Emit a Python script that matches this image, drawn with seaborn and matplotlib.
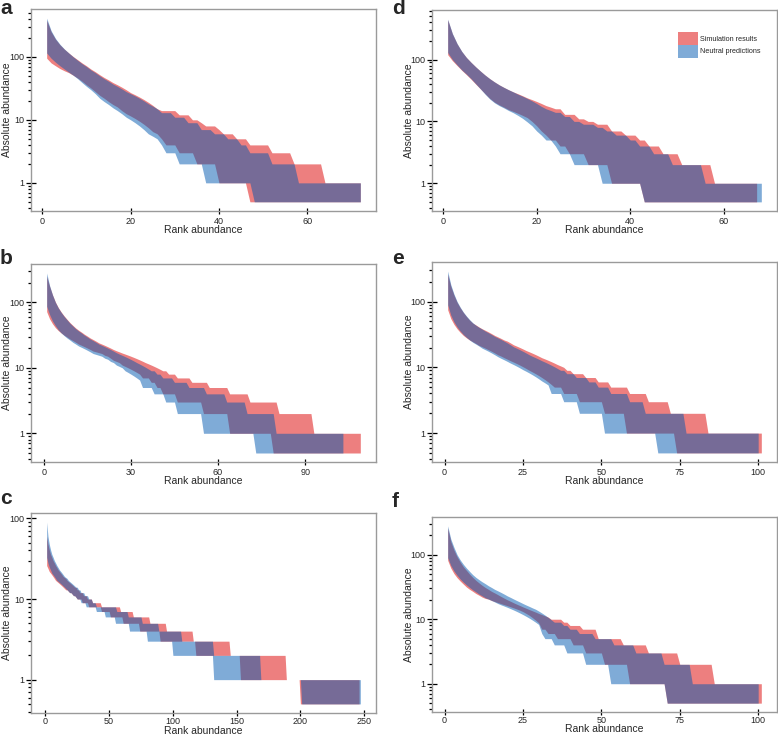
import numpy as np
import matplotlib
matplotlib.use("Agg")
import matplotlib.pyplot as plt
import seaborn as sns
from matplotlib.patches import Patch
from matplotlib.ticker import FixedLocator, LogLocator, NullFormatter

sns.set_style("white")
plt.rcParams['font.family'] = ['Liberation Sans', 'DejaVu Sans']

# ---------------- data ----------------
# panel a
sim_hi_a = [380, 250, 190, 155, 132, 115, 101, 90, 80, 72, 64, 58, 52, 47, 43, 39, 36, 33, 30, 27, 25, 23, 21, 19, 17, 15] \
    + [14]*4 + [12]*3 + [10]*2 + [9] + [8]*3 + [7] + [6]*3 + [5]*3 + [4]*5 + [3]*5 + [2]*7 + [1]*9
sim_lo_a = [95, 80, 72, 65, 60, 56, 51, 46, 41, 36, 32, 28, 24.5, 22, 19.5, 17.5, 16, 14, 12.5, 11.5, 10.5, 9.5, 8.5, 7.5, 6.5, 6, 5] \
    + [4]*3 + [3]*4 + [2]*5 + [1]*7 + [0.5]*26
neu_hi_a = [410, 260, 195, 158, 133, 115, 100, 88, 78, 70, 62, 56, 50, 45, 41, 37, 34, 31, 28, 26, 24, 22, 20, 18, 16.5, 15] \
    + [13]*3 + [11]*3 + [9]*3 + [7]*3 + [6]*3 + [5]*3 + [4]*2 + [3]*5 + [2]*6 + [1]*15
neu_lo_a = [115, 95, 82, 72, 64, 57, 51, 45, 39, 34, 30, 26, 22, 19.5, 17.5, 15.5, 14, 12.5, 11, 10, 9, 8, 7, 6, 5.5, 5, 4] \
    + [3]*3 + [2]*6 + [1]*11 + [0.5]*25

# panel b
sim_hi_b = [250, 175, 130, 101, 83, 71, 62, 55, 49, 44.5, 40.5, 37.5, 35, 32.5, 30.5, 28.5, 27, 25.5, 24, 23, 22, 21, 20, 19,
            18.2, 17.5, 16.8, 16.2, 15.6, 15, 14.4, 13.8, 13.2, 12.6, 12, 11.5, 11, 10.5, 10, 9.5] \
    + [9]*2 + [8]*3 + [7]*5 + [6]*6 + [5]*7 + [4]*7 + [3]*10 + [2]*12 + [1]*17
sim_lo_b = [72, 56, 47, 41, 37, 34, 31.5, 29.5, 27.5, 26, 24.5, 23, 22, 21, 20, 19, 18, 17.5, 17, 16.5, 15.5, 15, 14, 13,
            12.5, 12, 11, 10.5, 10, 9.5, 9, 8.5, 8] \
    + [7]*3 + [6]*2 + [5]*2 + [4]*5 + [3]*9 + [2]*9 + [1]*15 + [0.5]*31
neu_hi_b = [280, 180, 130, 100, 82, 70, 61, 54, 48, 43.5, 39.5, 36.5, 34, 31.5, 29.5, 27.5, 26, 24.5, 23, 22, 21, 20, 19, 18,
            17, 16.2, 15.5, 14.8, 14.1, 13.4, 12.7, 12, 11.4, 10.8, 10.2, 9.6] \
    + [9]*2 + [8]*2 + [7]*4 + [6]*5 + [5]*6 + [4]*7 + [3]*7 + [2]*10 + [1]*24
neu_lo_b = [87, 65, 52, 44, 38, 34, 31, 28.5, 26.5, 24.5, 23, 21.5, 20.5, 19.5, 18.5, 17.5, 16.5, 16, 15.5, 15, 14, 13.5,
            12.5, 12, 11, 10.5, 10, 9, 8.5, 8, 7.5, 7, 6.5] \
    + [5]*4 + [4]*4 + [3]*4 + [2]*9 + [1]*18 + [0.5]*31

# panel c
sim_hi_c = [60, 48, 41, 36, 33, 30, 28, 26, 24.5, 23, 22, 21, 20, 19, 18.5, 18, 17, 16.5, 16, 15.5, 15, 14.5, 14, 14, 13, 13,
            12, 12, 12, 11, 11, 11, 10, 10, 10, 10] \
    + [9]*7 + [8]*15 + [7]*10 + [6]*13 + [5]*13 + [4]*21 + [3]*29 + [2]*44 + [1]*58
sim_lo_c = [26, 24, 22, 21, 20, 19, 18, 17, 16.5, 16, 15.5, 15, 14.5, 14, 13.5, 13, 13, 12.5, 12, 12, 11.5, 11, 11, 10.5,
            10, 10, 10, 10] \
    + [9]*5 + [8]*10 + [7]*7 + [6]*10 + [5]*13 + [4]*16 + [3]*28 + [2]*35 + [1]*47 + [0.5]*47
neu_hi_c = [90, 60, 48, 41, 36, 33, 30, 28, 26, 24.5, 23, 22, 21, 20, 19, 18.5, 18, 17, 16.5, 16, 15.5, 15, 14.5, 14, 14,
            13, 13, 12, 12, 12, 11, 11, 11, 10, 10, 10, 9, 9, 9] \
    + [8]*16 + [7]*9 + [6]*11 + [5]*13 + [4]*18 + [3]*25 + [2]*37 + [1]*79
neu_lo_c = [33, 28, 25, 23, 21, 20, 19, 18, 17, 16.5, 16, 15.5, 15, 14.5, 14, 13.5, 13, 12.5, 12, 12, 11.5, 11, 11, 10.5,
            10, 10, 10, 9, 9, 9, 9] \
    + [8]*8 + [7]*7 + [6]*8 + [5]*11 + [4]*14 + [3]*20 + [2]*32 + [1]*69 + [0.5]*47

# panel d
sim_hi_d = [440, 260, 180, 135, 108, 90, 76, 65, 56, 49, 43.5, 39, 35.5, 32.5, 30, 28, 26, 24, 22.5, 21, 19.5, 18, 17] \
    + [16]*2 + [13]*3 + [11]*2 + [10]*2 + [9]*3 + [7]*3 + [6]*3 + [5]*2 + [4]*3 + [3]*4 + [2]*7 + [1]*10
sim_lo_d = [120, 96, 80, 67, 57, 48, 40, 33.5, 28, 23.5, 20.5, 18.5, 17, 15.5, 14.5, 13.5, 12.5, 11.5, 10, 8.5, 7, 6] \
    + [5]*2 + [4]*2 + [3]*4 + [2]*5 + [1]*7 + [0.5]*25
neu_hi_d = [450, 265, 182, 136, 108, 90, 76, 65, 56, 49, 43.5, 39, 35.5, 32.5, 30, 27.5, 25.5, 23.5, 21.5, 19.5, 17.5, 16, 15] \
    + [14]*2 + [12]*2 + [10]*2 + [9]*3 + [8]*2 + [7]*2 + [6]*3 + [5]*2 + [4]*3 + [3]*4 + [2]*7 + [1]*13
neu_lo_d = [130, 100, 82, 68, 58, 49, 40.5, 33.5, 27.5, 23, 20, 18, 16.5, 15, 13.8, 12.5, 11.2, 9.8, 8.5] \
    + [7] + [6] + [5]*2 + [4] + [3]*3 + [2]*6 + [1]*9 + [0.5]*26

# panel e
sim_hi_e = [260, 170, 125, 97, 80, 68, 59, 52, 47, 44, 41, 38.5, 36.5, 34.5, 32.5, 30.5, 29, 27.5, 26, 25, 23.5, 22, 21, 20,
            19, 18, 17.2, 16.4, 15.6, 14.8, 14, 13.4, 12.8, 12.2, 11.6, 11, 10.5, 10] \
    + [9]*2 + [8]*4 + [7]*4 + [6]*4 + [5]*6 + [4]*6 + [3]*7 + [2]*12 + [1]*18
sim_lo_e = [75, 55, 45, 38.5, 34, 30.5, 28, 26, 24.5, 23, 21.5, 20.5, 19.5, 18.5, 17.5, 16.5, 15.5, 14.8, 14, 13.3, 12.6, 12,
            11.4, 10.8, 10.2, 9.6, 9, 8.5, 8, 7.5, 7, 6.5, 6, 5.5] \
    + [5]*3 + [4]*5 + [3]*8 + [2]*7 + [1]*16 + [0.5]*28
neu_hi_e = [290, 180, 130, 100, 82, 69, 60, 53, 47.5, 43.5, 40.5, 38, 35.5, 33.5, 31.5, 29.5, 28, 26.5, 25, 23.5, 22, 20.5,
            19.5, 18.5, 17.5, 16.5, 15.5, 14.7, 14, 13.3, 12.6, 12, 11.4, 10.8, 10.2, 9.6] \
    + [9]*2 + [8]*3 + [7]*4 + [6]*3 + [5]*4 + [4]*6 + [3]*5 + [2]*13 + [1]*24
neu_lo_e = [89, 62, 49, 41, 35.5, 31.5, 28.5, 26, 24, 22.5, 21, 19.5, 18.5, 17.5, 16.5, 15.5, 14.5, 13.7, 13, 12.3, 11.6,
            11, 10.4, 9.8, 9.2, 8.7, 8.2, 7.7, 7.2, 6.7, 6.2, 5.8, 5.4] \
    + [4]*4 + [3]*5 + [2]*8 + [1]*17 + [0.5]*33

# panel f
sim_hi_f = [260, 160, 118, 93, 77, 65, 57, 50, 44.5, 40, 36.5, 33.5, 31, 29, 27, 25.5, 24, 22.5, 21.2, 20, 19, 18, 17.1,
            16.3, 15.5, 14.8, 14.1, 13.5, 12.9, 12.3, 11.8, 11.3, 10.8] \
    + [10]*4 + [9]*2 + [8]*4 + [7]*5 + [5]*8 + [4]*8 + [3]*10 + [2]*11 + [1]*16
sim_lo_f = [82, 62, 51, 44, 39, 35, 31.5, 29, 27, 25, 23.5, 22, 21, 20.5, 19.5, 18.8, 18.1, 17.4, 16.8, 16.2, 15.6, 15,
            14.4, 13.8, 13.1, 12.3, 11.5, 10.6, 9.7, 8.8] \
    + [7]*2 + [6]*3 + [5]*5 + [4]*4 + [3]*6 + [2]*8 + [1]*12 + [0.5]*31
neu_hi_f = [280, 175, 130, 100, 83, 71, 62, 55, 49, 44.5, 41, 38, 35.5, 33, 31, 29, 27.5, 26, 24.5, 23, 21.8, 20.6, 19.5,
            18.5, 17.5, 16.6, 15.8, 15, 14.3, 13.4, 12.5, 11.6, 10.7, 9.8, 9, 9, 9] \
    + [8]*2 + [7]*3 + [6]*5 + [5]*6 + [4]*7 + [3]*9 + [2]*9 + [1]*22
neu_lo_f = [90, 68, 56, 48, 42, 37.5, 34, 31, 28.5, 26.5, 24.5, 23, 21.5, 20.5, 19.5, 18.5, 17.5, 16.7, 16, 15.3, 14.6,
            13.9, 13.2, 12.5, 11.8, 11.1, 10.4, 9.7, 9, 8.3] \
    + [6] + [5]*3 + [4]*4 + [3]*6 + [2]*8 + [1]*18 + [0.5]*30

xticks_a = [0, 20, 40, 60]
xticks_b = [0, 30, 60, 90]
xticks_c = [0, 50, 100, 150, 200, 250]
xticks_d = [0, 20, 40, 60]
xticks_e = [0, 25, 50, 75, 100]
xticks_f = [0, 25, 50, 75, 100]
yticks = [1, 10, 100]
ytick_labels = ["1", "10", "100"]
series_names = ["Simulation results", "Neutral predictions"]
panel_letters = ["a", "b", "c", "d", "e", "f"]

# ---------------- styling ----------------
SIM_COLOR = "#DC0000"
NEU_COLOR = "#0058B0"
ALPHA = 0.5
SPINE = "#9a9a9a"

W, H = 778, 736
fig = plt.figure(figsize=(W / 100, H / 100), dpi=100)

# axes boxes in pixels: left, right, top, bottom
boxes = {
    "a": (31, 376, 9, 211), "d": (432, 777, 10, 211),
    "b": (31, 376, 264, 462), "e": (432, 777, 262, 462),
    "c": (31, 376, 513, 713), "f": (432, 777, 517, 712),
}
letter_pos = {"a": (0, -1), "b": (0, 249), "c": (0, 489),
              "d": (392, -1), "e": (392, 249), "f": (392, 492)}
xlabel_offset = {"a": 14, "b": 14, "c": 12.5, "d": 14, "e": 14, "f": 12.5}
xtick_pad = {"a": 1.5, "b": 1.5, "c": 0.6, "d": 1.5, "e": 1.5, "f": 0.6}

panels = {
    "a": (sim_hi_a, sim_lo_a, neu_hi_a, neu_lo_a, xticks_a),
    "b": (sim_hi_b, sim_lo_b, neu_hi_b, neu_lo_b, xticks_b),
    "c": (sim_hi_c, sim_lo_c, neu_hi_c, neu_lo_c, xticks_c),
    "d": (sim_hi_d, sim_lo_d, neu_hi_d, neu_lo_d, xticks_d),
    "e": (sim_hi_e, sim_lo_e, neu_hi_e, neu_lo_e, xticks_e),
    "f": (sim_hi_f, sim_lo_f, neu_hi_f, neu_lo_f, xticks_f),
}

for key in panel_letters:
    sim_hi, sim_lo, neu_hi, neu_lo, xt = panels[key]
    l, r, t, b = boxes[key]
    ax = fig.add_axes([l / W, 1 - b / H, (r - l) / W, (b - t) / H])
    x_sim = np.arange(1, len(sim_hi) + 1)
    x_neu = np.arange(1, len(neu_hi) + 1)
    ax.fill_between(x_sim, sim_lo, sim_hi, color=SIM_COLOR, alpha=ALPHA, linewidth=0)
    ax.fill_between(x_neu, neu_lo, neu_hi, color=NEU_COLOR, alpha=ALPHA, linewidth=0)
    ax.set_yscale("log")

    # limits: 5% expansion of data range (log space for y)
    xmin, xmax = 1, max(len(sim_hi), len(neu_hi))
    dx = 0.05 * (xmax - xmin)
    ax.set_xlim(xmin - dx, xmax + dx)
    ylo = np.log10(min(min(sim_lo), min(neu_lo)))
    yhi = np.log10(max(max(sim_hi), max(neu_hi)))
    dy = 0.05 * (yhi - ylo)
    ax.set_ylim(10 ** (ylo - dy), 10 ** (yhi + dy))

    ax.yaxis.set_major_locator(FixedLocator(yticks))
    ax.set_yticklabels(ytick_labels)
    ax.yaxis.set_minor_locator(LogLocator(base=10, subs=np.arange(2, 10)))
    ax.yaxis.set_minor_formatter(NullFormatter())
    ax.set_xticks(xt)
    ax.set_xticklabels([str(v) for v in xt])

    ax.tick_params(axis="y", which="major", direction="inout", length=7, width=0.9,
                   color="black", labelsize=6.5, pad=1.5, left=True)
    ax.tick_params(axis="y", which="minor", direction="out", length=2, width=0.9,
                   color="black", left=True)
    ax.tick_params(axis="x", which="major", direction="inout", length=5, width=0.9,
                   color="black", labelsize=6.5, pad=xtick_pad[key], bottom=True)
    for s in ax.spines.values():
        s.set_color(SPINE)
        s.set_linewidth(1.0)

    ax.set_xlabel("Rank abundance", fontsize=7.5)
    ax.set_ylabel("Absolute abundance", fontsize=7.5)
    hpx = b - t
    ax.xaxis.set_label_coords(0.5, -xlabel_offset[key] / hpx)
    ax.yaxis.set_label_coords(-18.5 / (r - l), 0.5)

    lx, ly = letter_pos[key]
    fig.text(lx / W, 1 - ly / H, key, fontsize=15, fontweight="bold", ha="left", va="top")

    if key == "d":
        handles = [Patch(facecolor=SIM_COLOR, alpha=ALPHA, edgecolor="none", label=series_names[0]),
                   Patch(facecolor=NEU_COLOR, alpha=ALPHA, edgecolor="none", label=series_names[1])]
        ax.legend(handles=handles, loc="upper left", bbox_to_anchor=((678 - l) / (r - l), (b - 32) / hpx),
                  frameon=False, fontsize=5.2, handlelength=2.8, handleheight=2.35,
                  labelspacing=0.0, handletextpad=0.3, borderpad=0, borderaxespad=0)

fig.savefig("out.png", dpi=100)
